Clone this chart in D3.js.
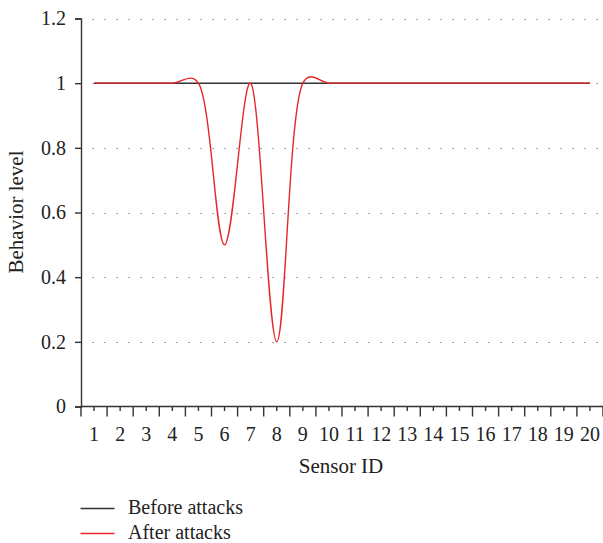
<!DOCTYPE html>
<html>
<head>
<meta charset="utf-8">
<script src="https://cdn.jsdelivr.net/npm/d3@7"></script>
<style>
  html, body { margin: 0; padding: 0; background: #fff; }
  svg { display: block; }
  text { font-family: "Liberation Serif", "DejaVu Serif", serif; fill: #222; }
</style>
</head>
<body>
<svg id="chart" width="603" height="543"></svg>
<script>
// Sensor IDs along the x axis
const sensors = d3.range(1, 21);
// Behavior level of every sensor before the attacks
const beforeAttacks = [1, 1, 1, 1, 1, 1, 1, 1, 1, 1, 1, 1, 1, 1, 1, 1, 1, 1, 1, 1];
// Behavior level of every sensor after the attacks
const afterAttacks = [1, 1, 1, 1, 1, 0.5, 1, 0.2, 1, 1, 1, 1, 1, 1, 1, 1, 1, 1, 1, 1];
// Y-axis ticks
const yTicks = [0, 0.2, 0.4, 0.6, 0.8, 1, 1.2];
const yTickLabels = ["0", "0.2", "0.4", "0.6", "0.8", "1", "1.2"];

const svg = d3.select("#chart");
const margin = { left: 81, right: 0, top: 18.5, bottom: 136.5 };
const W = 603, H = 543;
const plotBottom = H - margin.bottom;

const x = d3.scaleBand().domain(sensors).range([margin.left, W - margin.right]).padding(0);
const xc = d => x(d) + x.bandwidth() / 2;
const y = d3.scaleLinear().domain([0, 1.2]).range([plotBottom, margin.top]);

// Dotted horizontal grid
svg.append("g").selectAll("line")
  .data(yTicks.filter(v => v > 0))
  .join("line")
  .attr("x1", 92.5).attr("x2", W)
  .attr("y1", d => Math.round(y(d)) + 0.5).attr("y2", d => Math.round(y(d)) + 0.5)
  .attr("stroke", "#666").attr("stroke-width", 1.2)
  .attr("stroke-dasharray", "1.2,10.8");

// Y axis
const yAxis = d3.axisLeft(y).tickValues(yTicks)
  .tickFormat((d, i) => yTickLabels[i]).tickSize(6).tickPadding(9);
const gy = svg.append("g").attr("transform", `translate(${margin.left},0)`).call(yAxis);
gy.select(".domain").attr("stroke", "#333").attr("stroke-width", 1.4);
gy.selectAll(".tick line").attr("stroke", "#333").attr("stroke-width", 1.4);
gy.selectAll(".tick text").style("font-size", "20px").attr("fill", "#222")
  .style("font-family", "'Liberation Serif', serif");

// X axis: long ticks on band edges, short ticks at band centres
const gx = svg.append("g").attr("transform", `translate(0,${plotBottom})`);
gx.append("line").attr("x1", margin.left).attr("x2", W)
  .attr("stroke", "#333").attr("stroke-width", 1.4);
const edges = sensors.map(d => x(d)).concat([x(sensors[sensors.length - 1]) + x.bandwidth()]);
gx.selectAll("line.major").data(edges).join("line").attr("class", "major")
  .attr("x1", d => d).attr("x2", d => d).attr("y1", 0).attr("y2", 10)
  .attr("stroke", "#333").attr("stroke-width", 1.4);
gx.selectAll("line.minor").data(sensors).join("line").attr("class", "minor")
  .attr("x1", d => xc(d)).attr("x2", d => xc(d)).attr("y1", 0).attr("y2", 4.5)
  .attr("stroke", "#333").attr("stroke-width", 1.4);
gx.selectAll("text").data(sensors).join("text")
  .attr("x", d => xc(d)).attr("y", 34).attr("text-anchor", "middle")
  .style("font-size", "20px").text(d => d);

// Axis titles
svg.append("text").attr("x", 341).attr("y", 473)
  .attr("text-anchor", "middle").style("font-size", "21px").text("Sensor ID");
svg.append("text").attr("transform", `translate(23,212) rotate(-90)`)
  .attr("text-anchor", "middle").style("font-size", "21px").text("Behavior level");

// Series lines
const line = d3.line().x((d, i) => xc(sensors[i])).y(d => y(d)).curve(d3.curveCatmullRom.alpha(0.3));
svg.append("path").datum(beforeAttacks).attr("d", line)
  .attr("fill", "none").attr("stroke", "#333").attr("stroke-width", 1.5);
svg.append("path").datum(afterAttacks).attr("d", line)
  .attr("fill", "none").attr("stroke", "#e8262a").attr("stroke-width", 1.4);

// Legend
const legend = [
  { label: "Before attacks", color: "#333", y: 508.5 },
  { label: "After attacks", color: "#e8262a", y: 533.5 }
];
const lg = svg.append("g");
lg.selectAll("line").data(legend).join("line")
  .attr("x1", 80.5).attr("x2", 114.5).attr("y1", d => d.y).attr("y2", d => d.y)
  .attr("stroke", d => d.color).attr("stroke-width", 1.4);
lg.selectAll("text").data(legend).join("text")
  .attr("x", 128).attr("y", d => d.y + 5).style("font-size", "20px").text(d => d.label);
</script>
</body>
</html>
